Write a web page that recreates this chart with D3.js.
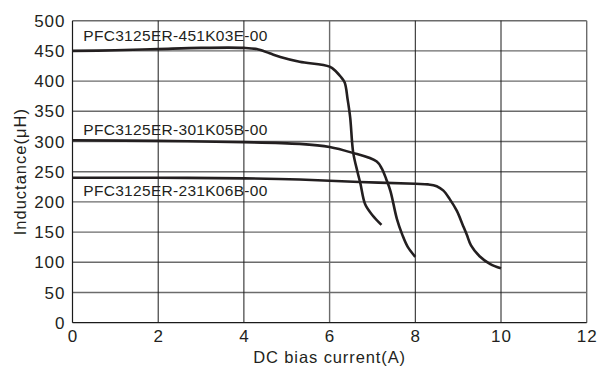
<!DOCTYPE html>
<html>
<head>
<meta charset="utf-8">
<script src="https://cdn.jsdelivr.net/npm/d3@7"></script>
<style>
  body { margin: 0; background: #fff; }
  text { font-family: "Liberation Sans", Arial, sans-serif; fill: #231f20; }
</style>
</head>
<body>
<div id="chart"></div>
<script>
// series data: [current (A), inductance (uH)]
var s451 = [[0, 450], [1, 451], [2, 453], [3, 455], [4, 455], [4.3, 453], [4.6, 446], [4.85, 440],
            [5.3, 432], [6.0, 424], [6.15, 416], [6.25, 408], [6.35, 398], [6.42, 370], [6.48, 340],
            [6.55, 282], [6.65, 250], [6.72, 230], [6.83, 196], [7.0, 178], [7.21, 162]];
var s301 = [[0, 302], [2, 301], [4, 299], [5.3, 296], [6.0, 291], [6.5, 282], [7.1, 267],
            [7.22, 255], [7.32, 238], [7.42, 218], [7.57, 172], [7.7, 145], [7.82, 126], [8.0, 109]];
var s231 = [[0, 240], [2, 240], [4, 239], [5.3, 237], [6.7, 233], [8.0, 230], [8.3, 229],
            [8.5, 226], [8.65, 219], [8.8, 205], [8.97, 185], [9.1, 163], [9.2, 146], [9.3, 128],
            [9.5, 110], [9.75, 97], [10.0, 90]];
var seriesNames = ["PFC3125ER-451K03E-00", "PFC3125ER-301K05B-00", "PFC3125ER-231K06B-00"];
var xTicks = [0, 2, 4, 6, 8, 10, 12];
var yTicks = [0, 50, 100, 150, 200, 250, 300, 350, 400, 450, 500];

var W = 599, H = 367;
var margin = { top: 20.7, right: 12.3, bottom: 44.3, left: 72.5 };
var width = W - margin.left - margin.right,
    height = H - margin.top - margin.bottom;

var svg = d3.select("#chart").append("svg")
    .attr("width", W)
    .attr("height", H);
var g = svg.append("g")
    .attr("transform", "translate(" + margin.left + "," + margin.top + ")");

var x = d3.scaleLinear().domain([0, 12]).range([0, width]);
var y = d3.scaleLinear().domain([0, 500]).range([height, 0]);

// grid
g.selectAll(".hgrid").data(yTicks.slice(1))
  .enter().append("line")
    .attr("x1", 0).attr("x2", width)
    .attr("y1", function(d) { return y(d); })
    .attr("y2", function(d) { return y(d); })
    .attr("stroke", "#6b6b6b").attr("stroke-width", 1.4);
g.selectAll(".vgrid").data(xTicks.slice(1))
  .enter().append("line")
    .attr("x1", function(d) { return x(d); })
    .attr("x2", function(d) { return x(d); })
    .attr("y1", 0).attr("y2", height)
    .attr("stroke", function(d) { return (d == 6 || d == 12) ? "#6b6b6b" : "#1a1a1a"; })
    .attr("stroke-width", function(d) { return (d == 6 || d == 12) ? 1.4 : 1; });

// axes lines
g.append("line").attr("x1", 0).attr("x2", 0).attr("y1", 0).attr("y2", height)
  .attr("stroke", "#1a1a1a").attr("stroke-width", 1.2);
g.append("line").attr("x1", 0).attr("x2", width).attr("y1", height).attr("y2", height)
  .attr("stroke", "#1a1a1a").attr("stroke-width", 1.2);

// tick labels
g.selectAll(".ylab").data(yTicks)
  .enter().append("text")
    .attr("x", -7)
    .attr("y", function(d) { return y(d); })
    .attr("dy", "0.36em")
    .attr("text-anchor", "end")
    .style("font-size", "17px")
    .style("letter-spacing", "1px")
    .text(function(d) { return d; });
g.selectAll(".xlab").data(xTicks)
  .enter().append("text")
    .attr("x", function(d) { return x(d) + 0.5; })
    .attr("y", height + 19.5)
    .attr("text-anchor", "middle")
    .style("font-size", "17px")
    .style("letter-spacing", "1px")
    .text(function(d) { return d; });

// axis titles
g.append("text")
  .attr("x", width / 2)
  .attr("y", height + 40.5)
  .attr("text-anchor", "middle")
  .style("font-size", "16.5px")
  .style("letter-spacing", "0.9px")
  .text("DC bias current(A)");
g.append("text")
  .attr("transform", "translate(" + (-46.5) + "," + (height / 2) + ")rotate(-90)")
  .attr("text-anchor", "middle")
  .style("font-size", "16.5px")
  .style("letter-spacing", "1px")
  .text("Inductance(\u03bcH)");

// curves
var line = d3.line()
    .x(function(d) { return x(d[0]); })
    .y(function(d) { return y(d[1]); })
    .curve(d3.curveCatmullRom.alpha(0.5));

[s451, s301, s231].forEach(function(s) {
  g.append("path")
    .datum(s)
    .attr("d", line)
    .attr("fill", "none")
    .attr("stroke", "#231f20")
    .attr("stroke-width", 2.6)
    .attr("stroke-linejoin", "round");
});

// series labels
var labelPos = [467, 311, 210];
seriesNames.forEach(function(n, i) {
  g.append("text")
    .attr("x", 10.8)
    .attr("y", y(labelPos[i]))
    .style("font-size", "15.5px")
    .style("letter-spacing", "0.3px")
    .text(n);
});
</script>
</body>
</html>
